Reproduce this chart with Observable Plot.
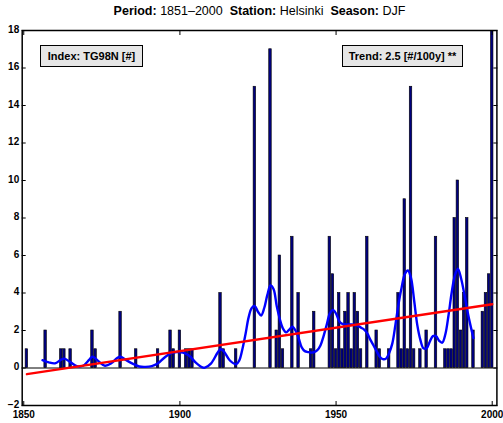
<!DOCTYPE html>
<html>
<head>
<meta charset="utf-8">
<script src="https://cdn.jsdelivr.net/npm/d3@7"></script>
<script src="https://cdn.jsdelivr.net/npm/@observablehq/plot@0.6"></script>
<style>
  html, body { margin: 0; padding: 0; background: #fff; }
  #wrap { position: relative; width: 503px; height: 423px; font-family: "Liberation Sans", Arial, Helvetica, sans-serif; }
  #chart { position: absolute; left: 0; top: 0; }
  .title { position: absolute; top: 4px; left: 22px; width: 475px; text-align: center; font-size: 12.5px; white-space: pre; color: #000; }
  .box { position: absolute; background: #e6e6e6; border: 1px solid #000; font-size: 11px; font-weight: bold; display: flex; align-items: center; justify-content: center; white-space: pre; box-sizing: border-box; color: #000; }
</style>
</head>
<body>
<div id="wrap">
  <div id="chart"></div>
  <div class="title"><b>Period:</b> 1851–2000  <b>Station:</b> Helsinki  <b>Season:</b> DJF</div>
  <div class="box" style="left:40px;top:45px;width:103px;height:22px">Index: TG98N [#]</div>
  <div class="box" style="left:342px;top:45px;width:121px;height:22px">Trend: 2.5 [#/100y] **</div>
</div>
<script>
// Bars: yearly index counts (years with zero are omitted)
const barYears = [1851,1857,1862,1863,1865,1872,1873,1881,1886,1893,1897,1898,1900,1902,1903,1904,1913,1914,1918,1924,1929,1931,1932,1933,1936,1938,1942,1943,1948,1949,1950,1951,1952,1953,1954,1955,1956,1957,1958,1960,1963,1964,1967,1970,1971,1972,1973,1974,1975,1977,1979,1982,1985,1986,1987,1988,1989,1990,1991,1992,1994,1997,1998,1999,2000];
const barValues = [1,2,1,1,1,2,1,3,1,1,2,1,2,1,1,1,4,1,1,15,17,2,6,1,7,4,1,3,7,5,1,4,1,3,4,1,4,3,1,7,2,1,1,4,1,9,1,15,1,1,2,7,1,1,1,8,10,2,4,8,2,3,4,5,18];

// Smoothed curve (blue)
const smoothYears = [1856,1858,1860,1862,1863,1865,1867,1869,1871,1872,1874,1876,1878,1880,1881,1883,1885,1887,1889,1891,1893,1895,1897,1899,1901,1903,1905,1907,1908,1910,1912,1913,1914,1916,1918,1919,1920,1921,1922,1923,1924,1925,1926,1927,1928,1929,1930,1931,1932,1933,1934,1935,1936,1937,1938,1939,1940,1941,1942,1943,1944,1945,1946,1947,1948,1949,1950,1951,1952,1953,1955,1957,1958,1959,1960,1961,1962,1963,1964,1965,1966,1967,1968,1969,1970,1971,1972,1973,1974,1975,1976,1977,1978,1979,1980,1981,1982,1983,1984,1985,1986,1987,1988,1989,1990,1991,1992,1993,1994];
const smoothValues = [0.42,0.3,0.25,0.45,0.5,0.3,0.1,0.12,0.45,0.6,0.35,0.12,0.25,0.55,0.6,0.4,0.22,0.08,0.06,0.1,0.25,0.55,0.78,0.85,0.82,0.65,0.3,0.05,0.02,0.25,0.8,1.0,0.9,0.4,0.2,0.4,1.0,1.8,2.7,3.2,3.3,3.0,2.8,3.2,3.9,4.4,4.2,3.3,2.6,2.1,1.9,2.05,2.2,2.0,1.6,1.1,0.9,0.85,0.82,0.85,0.95,1.2,1.7,2.3,2.9,3.1,2.9,2.5,2.35,2.32,2.32,2.25,2.15,2.05,1.85,1.5,1.2,0.9,0.6,0.47,0.5,0.8,1.3,2.3,3.4,4.3,5.0,5.2,4.8,3.6,2.3,1.5,1.05,1.05,1.4,1.7,1.7,1.45,1.35,1.8,2.8,4.0,4.9,5.3,4.8,4.0,3.1,2.3,1.6];

// Linear trend (red)
const trendYears = [1851, 2000];
const trendValues = [-0.33, 3.4];

// Axis ticks
const xTicks = [1850, 1900, 1950, 2000];
const yTicks = [-2, 0, 2, 4, 6, 8, 10, 12, 14, 16, 18];

const bars = barYears.map((year, i) => ({year, value: barValues[i]}));
const smooth = smoothYears.map((year, i) => ({year, value: smoothValues[i]}));
const trend = trendYears.map((year, i) => ({year, value: trendValues[i]}));

const tickFont = {fontSize: 10, fontWeight: "bold"};

const chart = Plot.plot({
  width: 503,
  height: 423,
  marginLeft: 21.7,
  marginRight: 6.6,
  marginTop: 30,
  marginBottom: 18,
  style: {fontFamily: "'Liberation Sans', Arial, Helvetica, sans-serif", background: "transparent", overflow: "visible"},
  x: {domain: [1849.5, 2001.5]},
  y: {domain: [-2, 18]},
  marks: [
    Plot.rectY(bars, {x1: d => d.year - 0.4, x2: d => d.year + 0.4, y1: 0, y2: "value", fill: "#00007f", stroke: "#000", strokeWidth: 0.6, clip: true}),
    Plot.ruleY([0], {stroke: "#000", strokeWidth: 1}),
    Plot.line(smooth, {x: "year", y: "value", stroke: "#0000ff", strokeWidth: 2.4, curve: "catmull-rom"}),
    Plot.line(trend, {x: "year", y: "value", stroke: "#ff0000", strokeWidth: 2.4}),
    Plot.frame({stroke: "#000", strokeWidth: 1.5}),
    // inward tick marks on all four sides
    Plot.axisY(yTicks, {anchor: "left", tickSize: -4, text: null, label: null, strokeWidth: 1}),
    Plot.axisY(yTicks, {anchor: "right", tickSize: -4, text: null, label: null, strokeWidth: 1}),
    Plot.axisX(xTicks, {anchor: "bottom", tickSize: -4, text: null, label: null, strokeWidth: 1}),
    Plot.axisX(xTicks, {anchor: "top", tickSize: -4, text: null, label: null, strokeWidth: 1}),
    // tick labels
    Plot.axisY(yTicks, {anchor: "left", tickSize: 0, tickPadding: 3, label: null, dy: -1, ...tickFont}),
    Plot.axisX(xTicks, {anchor: "bottom", tickSize: 0, tickPadding: 5, label: null, tickFormat: d => String(d), ...tickFont})
  ]
});
document.getElementById("chart").appendChild(chart);
</script>
</body>
</html>
